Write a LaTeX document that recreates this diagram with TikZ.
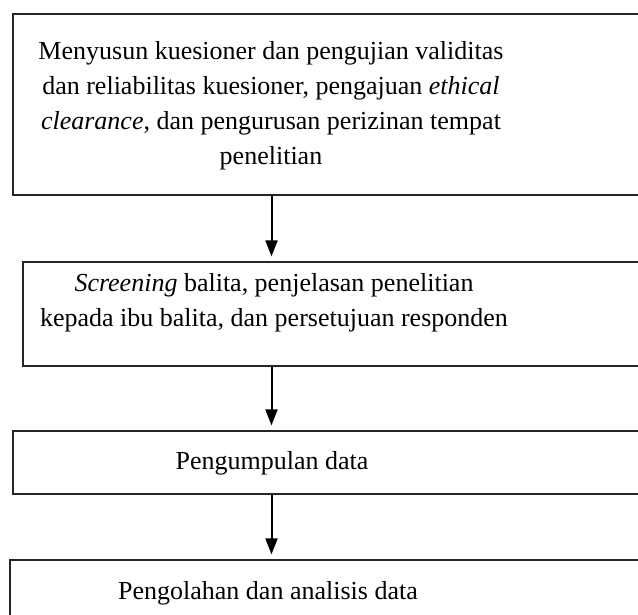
\documentclass[tikz,border=0pt]{standalone}
\usepackage{fontspec}
\setmainfont{Liberation Serif}
\usetikzlibrary{arrows.meta, positioning}

\begin{document}
\begin{tikzpicture}[
  x=1pt, y=-1pt,
  >={Triangle[length=16pt, width=12pt]},
  %% ── Box styles ──────────────────────────────────────────────────────────
  stepframe/.style={
    draw=black!85, line width=1.2pt,
    rectangle, inner sep=0pt
  },
  steptext/.style={
    font=\fontsize{26}{35}\selectfont,
    align=center, inner sep=0pt
  },
  %% ── Arrow style ─────────────────────────────────────────────────────────
  arr/.style={
    ->, line width=2pt, shorten >=5pt
  },
]

%% page area
\clip (0,0) rectangle (638,615);

%% ═══════════════════════════════════════════════════════════════════════════
%% FRAMES
%% ═══════════════════════════════════════════════════════════════════════════

\node[stepframe, minimum width=667pt, minimum height=181pt]
  (S1) at (346.5, 104.5) {};

\node[stepframe, minimum width=657pt, minimum height=104pt]
  (S2) at (351.5, 314) {};

\node[stepframe, minimum width=667pt, minimum height=63pt]
  (S3) at (346.5, 462.5) {};

\node[stepframe, minimum width=670pt, minimum height=100pt]
  (S4) at (345, 610) {};

%% ═══════════════════════════════════════════════════════════════════════════
%% TEXTS
%% ═══════════════════════════════════════════════════════════════════════════

\node[steptext]
  (T1) at (271, 106)
  {Menyusun kuesioner dan pengujian validitas\\
   dan reliabilitas kuesioner, pengajuan \textit{ethical}\\
   \textit{clearance}, dan pengurusan perizinan tempat\\
   penelitian};

\node[steptext]
  (T2) at (274, 303)
  {\textit{Screening} balita, penjelasan penelitian\\
   kepada ibu balita, dan persetujuan responden};

\node[steptext]
  (T3) at (272, 463)
  {Pengumpulan data};

\node[steptext]
  (T4) at (268, 593)
  {Pengolahan dan analisis data};

%% ═══════════════════════════════════════════════════════════════════════════
%% FLOW
%% ═══════════════════════════════════════════════════════════════════════════

\coordinate (A) at (271.5, 0);

\draw[arr] (A |- S1.south) -- (A |- S2.north);
\draw[arr] (A |- S2.south) -- (A |- S3.north);
\draw[arr] (A |- S3.south) -- (A |- S4.north);

\end{tikzpicture}
\end{document}
